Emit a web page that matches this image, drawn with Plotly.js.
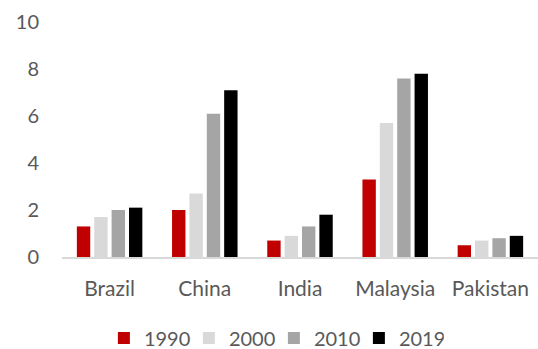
<!DOCTYPE html>
<html>
<head>
<meta charset="utf-8">
<script src="https://cdn.plot.ly/plotly-3.0.1.min.js"></script>
<style>
  html, body { margin: 0; padding: 0; background: #ffffff; }
  #chart { width: 538px; height: 349px; }
</style>
</head>
<body>
<div id="chart"></div>
<script>
// Countries on the category axis
const countries = ['Brazil', 'China', 'India', 'Malaysia', 'Pakistan'];

// One series per year
const years = ['1990', '2000', '2010', '2019'];
const values1990 = [1.3, 2.0, 0.7, 3.3, 0.5];
const values2000 = [1.7, 2.7, 0.9, 5.7, 0.7];
const values2010 = [2.0, 6.1, 1.3, 7.6, 0.8];
const values2019 = [2.1, 7.1, 1.8, 7.8, 0.9];

// Y-axis ticks
const yTicks = [0, 2, 4, 6, 8, 10];

const seriesValues = [values1990, values2000, values2010, values2019];
const seriesColors = ['#C00000', '#D9D9D9', '#A5A5A5', '#000000'];

const traces = years.map((yr, i) => ({
  type: 'bar',
  name: yr,
  x: countries,
  y: seriesValues[i],
  marker: { color: seriesColors[i], line: { width: 0 } },
  hoverinfo: 'x+y+name'
}));

const font = { family: 'Lato, "Open Sans", sans-serif', size: 20, color: '#595959' };
const catFont = { family: 'Lato, "Open Sans", sans-serif', size: 21, color: '#595959' };

const layout = {
  width: 538,
  height: 349,
  margin: { l: 62, r: 0, t: 22, b: 92, autoexpand: false },
  paper_bgcolor: '#ffffff',
  plot_bgcolor: '#ffffff',
  font: font,
  barmode: 'group',
  bargap: 0.27,
  bargroupgap: 0.23,
  showlegend: true,
  legend: {
    orientation: 'h',
    x: 0.088, xanchor: 'left',
    y: -0.345, yanchor: 'middle',
    font: font,
    entrywidth: 40,
    itemwidth: 20,
    traceorder: 'normal'
  },
  xaxis: {
    type: 'category',
    showgrid: false,
    showline: true,
    linecolor: '#D9D9D9',
    linewidth: 1.5,
    ticks: '',
    ticklabelstandoff: 12,
    tickfont: catFont,
    fixedrange: true
  },
  yaxis: {
    range: [0, 10],
    tickvals: yTicks,
    showgrid: false,
    zeroline: false,
    showline: false,
    ticks: '',
    ticklabelstandoff: 22,
    tickfont: font,
    fixedrange: true
  }
};

Plotly.newPlot('chart', traces, layout, { displayModeBar: false, staticPlot: true });
</script>
</body>
</html>
